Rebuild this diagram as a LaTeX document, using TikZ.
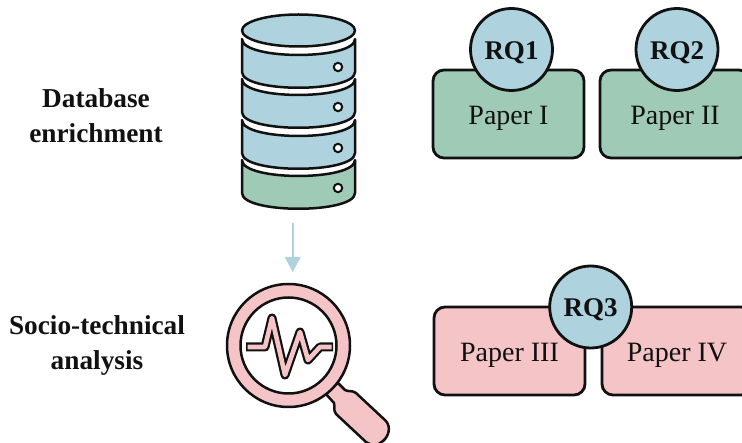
\documentclass[tikz,border=0pt]{standalone}
\usepackage{fontspec}
\setmainfont{Liberation Serif}
\definecolor{blu}{HTML}{AED3DE}
\definecolor{grn}{HTML}{9FCAB5}
\definecolor{pnk}{HTML}{F5C4C7}
\definecolor{ink}{HTML}{111111}
\tikzset{
  outline/.style={draw=ink,line width=2.5pt,line join=round},
  paperbox/.style={outline,line width=2.8pt,rounded corners=11pt,minimum height=88pt,inner sep=0pt,
    font=\fontsize{28}{30}\selectfont,text=ink,text height=21pt,text depth=0pt},
  rqnode/.style={outline,line width=2.8pt,circle,fill=blu,minimum size=82pt,inner sep=0pt,
    font=\fontsize{27}{30}\selectfont\bfseries,text=ink,text height=20pt,text depth=0pt},
  heading/.style={align=center,text=ink,inner sep=0pt,font=\fontsize{27.3}{35}\selectfont\bfseries},
  band/.style={outline},
}
\begin{document}
\begin{tikzpicture}[x=1pt,y=-1pt]
\useasboundingbox (0,0) rectangle (742,443);
\clip (0,0) rectangle (742,443);
% headings
\node[heading] (h1) at (96,116) {Database\\enrichment};
\node[heading] (h2) at (97,345.5) {Socio-technical\\analysis};
% database
\foreach \Y/\c in {39/blu,79/blu,120/blu,160/grn}{
  \draw[band,fill=\c] (242,\Y) .. controls (242,\Y+21.3) and (355,\Y+21.3) .. (355,\Y)
    -- (355,\Y+33) .. controls (355,\Y+54) and (242,\Y+54) .. (242,\Y+33) -- cycle;
  \draw[draw=ink,line width=2pt,fill=white] (338,\Y+28) circle [radius=4.2];
}
\draw[outline,fill=blu] (298.5,30.5) ellipse [x radius=56.5,y radius=16];
% arrow
\coordinate (arrowstart) at (292.7,223);
\coordinate (arrowneck) at (292.7,258);
\coordinate (arrowtip) at (292.7,272);
\draw[blu,line width=2pt] (arrowstart) -- (arrowneck);
\fill[blu] (284.7,257) -- (300.7,257) -- (arrowtip) -- cycle;
% magnifier
\draw[outline,fill=pnk] (325,393) -- (338,383) -- (345,390)
  .. controls (348,392) and (352,390) .. (356,393)
  -- (386,421) .. controls (391,427) and (389,436) .. (383,441)
  .. controls (378,446) and (371,446) .. (366,442)
  -- (336,414) .. controls (333,410) and (335,406) .. (334,403) -- cycle;
\draw[outline,fill=pnk,even odd rule] (288.5,345.5) circle [radius=61.5] (288.5,345.5) circle [radius=48];
\draw[ink,line width=9pt,line join=round] (246,347) -- (265,347) -- (272,318) -- (285,375) -- (300,332) -- (308,360) -- (320,347) -- (333,347);
\draw[pnk,line width=4.6pt,line join=round] (247.5,347) -- (265,347) -- (272,318) -- (285,375) -- (300,332) -- (308,360) -- (320,347) -- (331.5,347);
% papers
\node[paperbox,fill=grn,minimum width=151pt] (p1) at (508.5,114) {Paper I};
\node[paperbox,fill=grn,minimum width=150pt] (p2) at (675,114) {Paper II};
\node[paperbox,fill=pnk,minimum width=151pt] (p3) at (509.5,351) {Paper III};
\node[paperbox,fill=pnk,minimum width=150pt] (p4) at (677,351) {Paper IV};
\node[rqnode] (q1) at (511.5,49.5) {RQ1};
\node[rqnode] (q2) at (677,49.5) {RQ2};
\node[rqnode] (q3) at (590.7,307) {RQ3};
\end{tikzpicture}
\end{document}
